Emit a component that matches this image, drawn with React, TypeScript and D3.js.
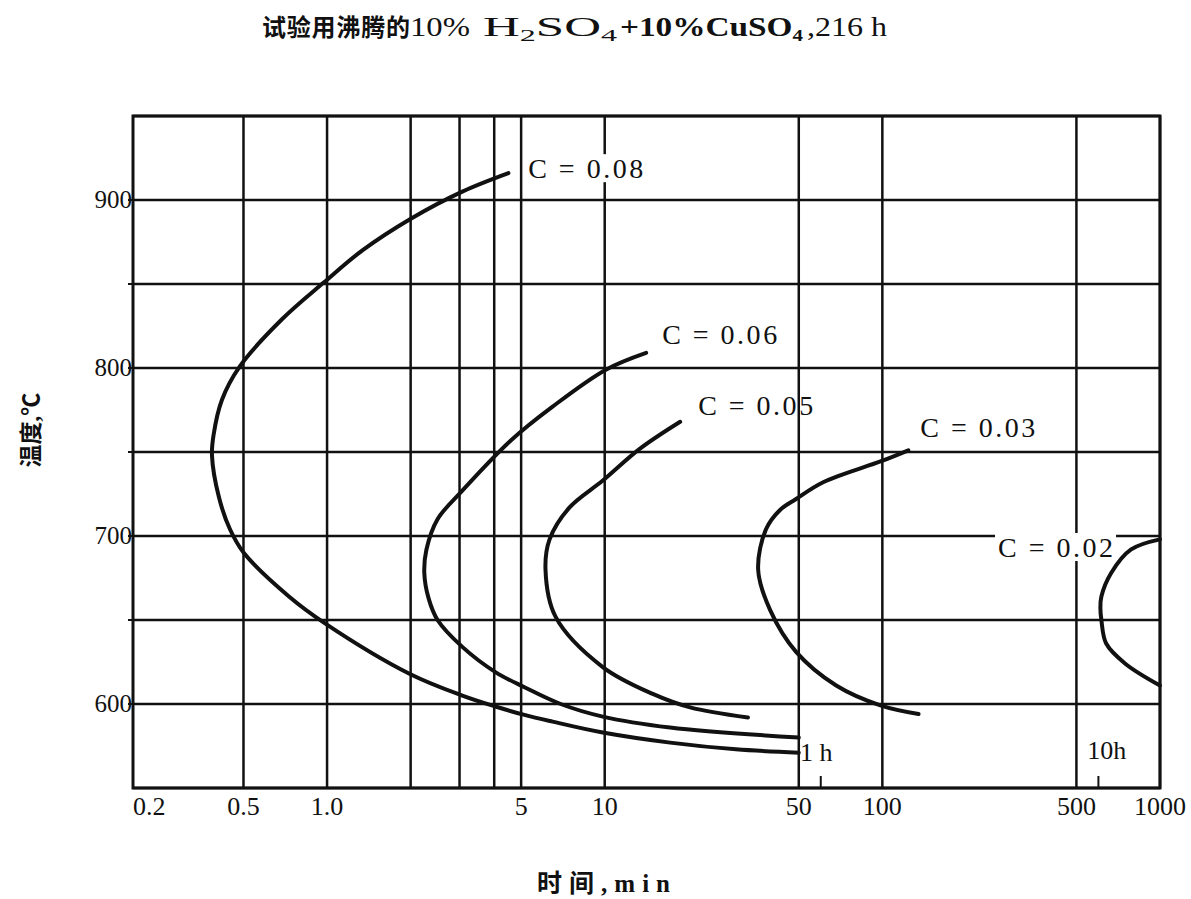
import React, { useEffect, useRef } from "react";
import * as d3 from "d3";

// axis ticks / grid
const xTickValues = [0.2, 0.5, 1, 5, 10, 50, 100, 500, 1000];
const xTickLabels = ["0.2", "0.5", "1.0", "5", "10", "50", "100", "500", "1000"];
const xGridValues = [0.5, 1, 2, 3, 4, 5, 10, 50, 100, 500, 1000];
const yTickValues = [600, 700, 800, 900];
const yGridValues = [550, 600, 650, 700, 750, 800, 850, 900, 950];
const hourMarks = [60, 600]; // 1 h, 10 h

// curves: [time (min), temperature (°C)]
const curveC008 = [
  [4.5, 916], [3.07, 905], [2.01, 889], [1.34, 870], [0.975, 851], [0.688, 829],
  [0.485, 801], [0.418, 781], [0.39, 760], [0.385, 748], [0.408, 723], [0.447, 704],
  [0.501, 690], [0.729, 664], [0.983, 648], [1.98, 618], [3.07, 605], [4.04, 598.5],
  [5.14, 593.5], [6.49, 589.5], [9.84, 583], [17.2, 577], [29.7, 573], [50, 571],
];
const curveC006 = [
  [14.1, 809], [10.1, 799], [6.49, 777], [4.6, 757], [3.07, 727], [2.5, 710],
  [2.28, 692], [2.24, 678], [2.32, 663], [2.5, 650], [3.07, 634], [4.04, 619],
  [5.14, 610], [6.94, 600], [9.84, 592.5], [17.2, 586], [50, 580],
];
const curveC005 = [
  [18.7, 768], [13.4, 752], [9.84, 733], [7.47, 717], [6.33, 698], [6.12, 680],
  [6.65, 652], [9.84, 622], [14.9, 606], [20.3, 598], [32.8, 592],
];
const curveC003 = [
  [124, 751], [99, 744.5], [61.2, 732], [48.9, 722], [42.8, 715.5], [38.1, 704],
  [35.7, 680], [39.4, 656], [48.9, 631], [68.2, 611], [99, 599], [135, 594],
];
const curveC002 = [
  [1000, 698], [787, 692], [667, 678], [615, 664], [610, 657], [615, 650],
  [640, 636], [750, 624], [1000, 611],
];
const curves = [curveC008, curveC006, curveC005, curveC003, curveC002];

// annotations anchored in data units
const curveLabels = [
  { text: "C = 0.08", t: 5.3, temp: 913, bg: true },
  { text: "C = 0.06", t: 16.1, temp: 814, bg: false },
  { text: "C = 0.05", t: 21.7, temp: 772, bg: false },
  { text: "C = 0.03", t: 137, temp: 759, bg: false },
  { text: "C = 0.02", t: 261, temp: 687.5, bg: true },
];
const hourLabels = [
  { text: "1 h", t: 50.5, temp: 566 },
  { text: "10h", t: 547, temp: 567 },
];

const serif = "'Liberation Serif', 'Noto Sans CJK SC', serif";
const ink = "#111";

export default function App() {
  const ref = useRef<SVGSVGElement>(null);

  useEffect(() => {
    const svg = d3.select(ref.current);
    svg.selectAll("*").remove();

    const x = d3.scaleLog().domain([0.2, 1000]).range([133, 1160]);
    const y = d3.scaleLinear().domain([550, 950]).range([788, 116]);

    // grid
    const grid = svg.append("g").attr("stroke", ink).attr("stroke-width", 2.5);
    grid
      .selectAll("line.v")
      .data(xGridValues)
      .join("line")
      .attr("x1", (d) => x(d))
      .attr("x2", (d) => x(d))
      .attr("y1", y(550))
      .attr("y2", y(950));
    grid
      .selectAll("line.h")
      .data(yGridValues)
      .join("line")
      .attr("x1", x(0.2))
      .attr("x2", x(1000))
      .attr("y1", (d) => y(d))
      .attr("y2", (d) => y(d));

    // frame
    svg
      .append("rect")
      .attr("x", x(0.2))
      .attr("y", y(950))
      .attr("width", x(1000) - x(0.2))
      .attr("height", y(550) - y(950))
      .attr("fill", "none")
      .attr("stroke", ink)
      .attr("stroke-width", 3);

    // y ticks
    svg
      .append("g")
      .selectAll("line")
      .data(yGridValues.slice(1, -1))
      .join("line")
      .attr("x1", x(0.2) - 5)
      .attr("x2", x(0.2))
      .attr("y1", (d) => y(d))
      .attr("y2", (d) => y(d))
      .attr("stroke", ink)
      .attr("stroke-width", 2);

    // 1 h / 10 h marks
    svg
      .append("g")
      .selectAll("line")
      .data(hourMarks)
      .join("line")
      .attr("x1", (d) => x(d))
      .attr("x2", (d) => x(d))
      .attr("y1", y(550))
      .attr("y2", y(550) - 12)
      .attr("stroke", ink)
      .attr("stroke-width", 2);

    // curves
    const line = d3
      .line<number[]>()
      .x((d) => x(d[0]))
      .y((d) => y(d[1]))
      .curve(d3.curveCatmullRom.alpha(0.5));
    svg
      .append("g")
      .selectAll("path")
      .data(curves)
      .join("path")
      .attr("d", (d) => line(d))
      .attr("fill", "none")
      .attr("stroke", ink)
      .attr("stroke-width", 4)
      .attr("stroke-linecap", "round");

    // curve labels
    const lab = svg
      .append("g")
      .selectAll("g")
      .data(curveLabels)
      .join("g")
      .attr("transform", (d) => `translate(${x(d.t)},${y(d.temp)})`);
    lab
      .filter((d) => d.bg)
      .append("rect")
      .attr("x", -3)
      .attr("y", -24)
      .attr("width", 121)
      .attr("height", 28)
      .attr("fill", "#fff");
    lab
      .append("text")
      .attr("font-family", serif)
      .attr("font-size", 28)
      .attr("fill", ink)
      .attr("textLength", 115)
      .attr("lengthAdjust", "spacing")
      .text((d) => d.text);

    svg
      .append("g")
      .selectAll("text")
      .data(hourLabels)
      .join("text")
      .attr("x", (d) => x(d.t))
      .attr("y", (d) => y(d.temp))
      .attr("font-family", serif)
      .attr("font-size", 26)
      .attr("fill", ink)
      .text((d) => d.text);

    // x tick labels
    svg
      .append("g")
      .selectAll("text")
      .data(xTickValues)
      .join("text")
      .attr("x", (d) => x(d))
      .attr("y", 815)
      .attr("text-anchor", (d, i) => (i === 0 ? "start" : "middle"))
      .attr("font-family", serif)
      .attr("font-size", 26)
      .attr("fill", ink)
      .text((d, i) => xTickLabels[i]);

    // y tick labels
    svg
      .append("g")
      .selectAll("text")
      .data(yTickValues)
      .join("text")
      .attr("x", x(0.2) - 1)
      .attr("y", (d) => y(d) + 8)
      .attr("text-anchor", "end")
      .attr("font-family", serif)
      .attr("font-size", 25)
      .attr("fill", ink)
      .text((d) => d);

    // axis titles
    svg
      .append("text")
      .attr("x", 537)
      .attr("y", 892)
      .attr("font-family", serif)
      .attr("font-size", 25)
      .attr("font-weight", "bold")
      .attr("textLength", 133)
      .attr("lengthAdjust", "spacing")
      .attr("fill", ink)
      .text("时间,min");

    svg
      .append("text")
      .attr("transform", "translate(39,430) rotate(-90)")
      .attr("text-anchor", "middle")
      .attr("font-family", serif)
      .attr("font-size", 23)
      .attr("font-weight", "bold")
      .attr("fill", ink)
      .text("温度,℃");

    // title, in pieces sized like the original
    const title = svg
      .append("g")
      .attr("font-family", serif)
      .attr("fill", ink);
    title
      .append("text")
      .attr("x", 262)
      .attr("y", 36)
      .attr("font-size", 24)
      .attr("font-weight", "bold")
      .attr("textLength", 148)
      .text("试验用沸腾的");
    title
      .append("text")
      .attr("x", 410)
      .attr("y", 36)
      .attr("font-size", 27)
      .attr("textLength", 60)
      .attr("lengthAdjust", "spacingAndGlyphs")
      .text("10%");
    const h2 = title
      .append("text")
      .attr("x", 483)
      .attr("y", 36)
      .attr("font-size", 27)
      .attr("textLength", 134)
      .attr("lengthAdjust", "spacingAndGlyphs");
    h2.append("tspan").text("H");
    h2.append("tspan").attr("font-size", 17).attr("dy", 5).text("2");
    h2.append("tspan").attr("dy", -5).text("SO");
    h2.append("tspan").attr("font-size", 17).attr("dy", 5).text("4");
    const cu = title
      .append("text")
      .attr("x", 620)
      .attr("y", 36)
      .attr("font-size", 27)
      .attr("font-weight", "bold")
      .attr("textLength", 183)
      .attr("lengthAdjust", "spacingAndGlyphs");
    cu.append("tspan").text("+10%CuSO");
    cu.append("tspan").attr("font-size", 17).attr("dy", 5).text("4");
    title
      .append("text")
      .attr("x", 807)
      .attr("y", 36)
      .attr("font-size", 27)
      .attr("textLength", 80)
      .attr("lengthAdjust", "spacingAndGlyphs")
      .text(",216 h");
  }, []);

  return (
    <svg
      ref={ref}
      width={1191}
      height={899}
      style={{ position: "absolute", left: 0, top: 0, background: "#fff" }}
    />
  );
}
